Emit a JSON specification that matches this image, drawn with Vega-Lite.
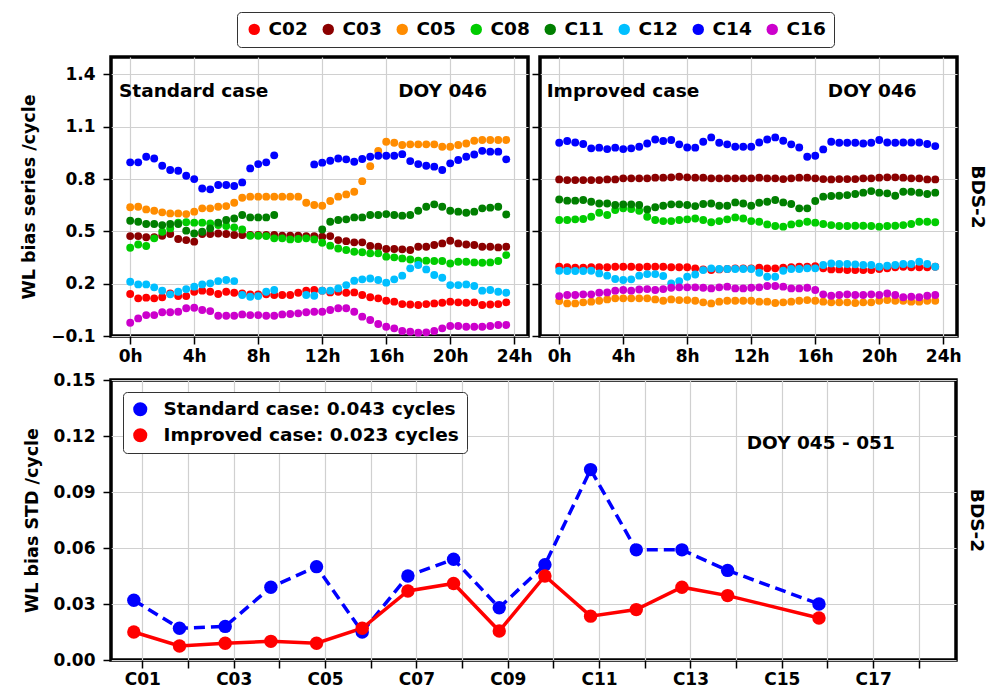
{
  "$schema": "https://vega.github.io/schema/vega-lite/v6.json",
  "padding": {"left": 18, "top": 11, "right": 5, "bottom": 2},
  "config": {
    "font": "DejaVu Sans",
    "view": {"stroke": "black", "strokeWidth": 3.5},
    "axis": {
      "labelFont": "DejaVu Sans", "labelFontSize": 17, "labelFontWeight": "bold", "labelColor": "black",
      "titleFont": "DejaVu Sans", "titleFontSize": 17.5, "titleFontWeight": "bold", "titleColor": "black",
      "tickColor": "black", "tickWidth": 1.5, "tickSize": 8, "domain": false,
      "gridColor": "#d0d0d0", "gridWidth": 1.2
    },
    "text": {"font": "DejaVu Sans", "fontWeight": "bold", "fontSize": 18.5, "color": "black"},
    "legend": {"labelFont": "DejaVu Sans", "labelFontWeight": "bold", "labelColor": "black", "labelLimit": 400}
  },
  "datasets": {
    "standard": [
      {"p":"C02","h":0,"v":0.141},{"p":"C02","h":0.5,"v":0.116},{"p":"C02","h":1,"v":0.120},{"p":"C02","h":1.5,"v":0.116},{"p":"C02","h":2,"v":0.122},{"p":"C02","h":2.5,"v":0.144},{"p":"C02","h":3,"v":0.129},{"p":"C02","h":3.5,"v":0.129},{"p":"C02","h":4,"v":0.154},{"p":"C02","h":4.5,"v":0.160},
      {"p":"C02","h":5,"v":0.154},{"p":"C02","h":5.5,"v":0.141},{"p":"C02","h":6,"v":0.154},{"p":"C02","h":6.5,"v":0.148},{"p":"C02","h":7,"v":0.144},{"p":"C02","h":7.5,"v":0.139},{"p":"C02","h":8,"v":0.139},{"p":"C02","h":8.5,"v":0.139},{"p":"C02","h":9,"v":0.135},{"p":"C02","h":9.5,"v":0.135},
      {"p":"C02","h":10,"v":0.135},{"p":"C02","h":10.5,"v":0.148},{"p":"C02","h":11,"v":0.160},{"p":"C02","h":11.5,"v":0.164},{"p":"C02","h":12,"v":0.160},{"p":"C02","h":12.5,"v":0.150},{"p":"C02","h":13,"v":0.154},{"p":"C02","h":13.5,"v":0.148},{"p":"C02","h":14,"v":0.150},{"p":"C02","h":14.5,"v":0.135},
      {"p":"C02","h":15,"v":0.122},{"p":"C02","h":15.5,"v":0.116},{"p":"C02","h":16,"v":0.102},{"p":"C02","h":16.5,"v":0.097},{"p":"C02","h":17,"v":0.083},{"p":"C02","h":17.5,"v":0.081},{"p":"C02","h":18,"v":0.078},{"p":"C02","h":18.5,"v":0.083},{"p":"C02","h":19,"v":0.087},{"p":"C02","h":19.5,"v":0.091},
      {"p":"C02","h":20,"v":0.097},{"p":"C02","h":20.5,"v":0.093},{"p":"C02","h":21,"v":0.091},{"p":"C02","h":21.5,"v":0.093},{"p":"C02","h":22,"v":0.078},{"p":"C02","h":22.5,"v":0.081},{"p":"C02","h":23,"v":0.083},{"p":"C02","h":23.5,"v":0.093},

      {"p":"C03","h":0,"v":0.473},{"p":"C03","h":0.5,"v":0.473},{"p":"C03","h":1,"v":0.466},{"p":"C03","h":1.5,"v":0.466},{"p":"C03","h":2,"v":0.475},{"p":"C03","h":2.5,"v":0.485},{"p":"C03","h":3,"v":0.456},{"p":"C03","h":3.5,"v":0.450},{"p":"C03","h":4,"v":0.441},{"p":"C03","h":4.5,"v":0.485},
      {"p":"C03","h":5,"v":0.485},{"p":"C03","h":5.5,"v":0.488},{"p":"C03","h":6,"v":0.485},{"p":"C03","h":6.5,"v":0.479},{"p":"C03","h":7,"v":0.479},{"p":"C03","h":7.5,"v":0.479},{"p":"C03","h":8,"v":0.479},{"p":"C03","h":8.5,"v":0.479},{"p":"C03","h":9,"v":0.479},{"p":"C03","h":9.5,"v":0.475},
      {"p":"C03","h":10,"v":0.475},{"p":"C03","h":10.5,"v":0.475},{"p":"C03","h":11,"v":0.473},{"p":"C03","h":11.5,"v":0.473},{"p":"C03","h":12,"v":0.469},{"p":"C03","h":12.5,"v":0.473},{"p":"C03","h":13,"v":0.450},{"p":"C03","h":13.5,"v":0.444},{"p":"C03","h":14,"v":0.437},{"p":"C03","h":14.5,"v":0.437},
      {"p":"C03","h":15,"v":0.416},{"p":"C03","h":15.5,"v":0.412},{"p":"C03","h":16,"v":0.399},{"p":"C03","h":16.5,"v":0.399},{"p":"C03","h":17,"v":0.397},{"p":"C03","h":17.5,"v":0.393},{"p":"C03","h":18,"v":0.412},{"p":"C03","h":18.5,"v":0.412},{"p":"C03","h":19,"v":0.422},{"p":"C03","h":19.5,"v":0.431},
      {"p":"C03","h":20,"v":0.446},{"p":"C03","h":20.5,"v":0.431},{"p":"C03","h":21,"v":0.425},{"p":"C03","h":21.5,"v":0.422},{"p":"C03","h":22,"v":0.412},{"p":"C03","h":22.5,"v":0.412},{"p":"C03","h":23,"v":0.408},{"p":"C03","h":23.5,"v":0.412},

      {"p":"C05","h":0,"v":0.638},{"p":"C05","h":0.5,"v":0.641},{"p":"C05","h":1,"v":0.626},{"p":"C05","h":1.5,"v":0.618},{"p":"C05","h":2,"v":0.609},{"p":"C05","h":2.5,"v":0.603},{"p":"C05","h":3,"v":0.603},{"p":"C05","h":3.5,"v":0.599},{"p":"C05","h":4,"v":0.613},{"p":"C05","h":4.5,"v":0.632},
      {"p":"C05","h":5,"v":0.632},{"p":"C05","h":5.5,"v":0.641},{"p":"C05","h":6,"v":0.645},{"p":"C05","h":6.5,"v":0.664},{"p":"C05","h":7,"v":0.693},{"p":"C05","h":7.5,"v":0.699},{"p":"C05","h":8,"v":0.699},{"p":"C05","h":8.5,"v":0.699},{"p":"C05","h":9,"v":0.699},{"p":"C05","h":9.5,"v":0.699},
      {"p":"C05","h":10,"v":0.699},{"p":"C05","h":10.5,"v":0.699},{"p":"C05","h":11,"v":0.664},{"p":"C05","h":11.5,"v":0.651},{"p":"C05","h":12,"v":0.647},{"p":"C05","h":12.5,"v":0.674},{"p":"C05","h":13,"v":0.699},{"p":"C05","h":13.5,"v":0.712},{"p":"C05","h":14,"v":0.727},{"p":"C05","h":14.5,"v":0.788},
      {"p":"C05","h":15,"v":0.874},{"p":"C05","h":15.5,"v":0.962},{"p":"C05","h":16,"v":1.014},{"p":"C05","h":16.5,"v":1.008},{"p":"C05","h":17,"v":0.995},{"p":"C05","h":17.5,"v":0.999},{"p":"C05","h":18,"v":0.999},{"p":"C05","h":18.5,"v":0.999},{"p":"C05","h":19,"v":0.999},{"p":"C05","h":19.5,"v":0.985},
      {"p":"C05","h":20,"v":0.985},{"p":"C05","h":20.5,"v":0.995},{"p":"C05","h":21,"v":1.004},{"p":"C05","h":21.5,"v":1.020},{"p":"C05","h":22,"v":1.024},{"p":"C05","h":22.5,"v":1.024},{"p":"C05","h":23,"v":1.024},{"p":"C05","h":23.5,"v":1.024},

      {"p":"C08","h":0,"v":0.406},{"p":"C08","h":0.5,"v":0.425},{"p":"C08","h":1,"v":0.416},{"p":"C08","h":1.5,"v":0.460},{"p":"C08","h":2,"v":0.498},{"p":"C08","h":2.5,"v":0.517},{"p":"C08","h":3,"v":0.550},{"p":"C08","h":3.5,"v":0.552},{"p":"C08","h":4,"v":0.550},{"p":"C08","h":4.5,"v":0.550},
      {"p":"C08","h":5,"v":0.546},{"p":"C08","h":5.5,"v":0.536},{"p":"C08","h":6,"v":0.531},{"p":"C08","h":6.5,"v":0.523},{"p":"C08","h":7,"v":0.511},{"p":"C08","h":7.5,"v":0.475},{"p":"C08","h":8,"v":0.475},{"p":"C08","h":8.5,"v":0.473},{"p":"C08","h":9,"v":0.460},{"p":"C08","h":9.5,"v":0.460},
      {"p":"C08","h":10,"v":0.454},{"p":"C08","h":10.5,"v":0.456},{"p":"C08","h":11,"v":0.460},{"p":"C08","h":11.5,"v":0.454},{"p":"C08","h":12,"v":0.435},{"p":"C08","h":12.5,"v":0.418},{"p":"C08","h":13,"v":0.402},{"p":"C08","h":13.5,"v":0.393},{"p":"C08","h":14,"v":0.383},{"p":"C08","h":14.5,"v":0.380},
      {"p":"C08","h":15,"v":0.374},{"p":"C08","h":15.5,"v":0.374},{"p":"C08","h":16,"v":0.355},{"p":"C08","h":16.5,"v":0.351},{"p":"C08","h":17,"v":0.345},{"p":"C08","h":17.5,"v":0.339},{"p":"C08","h":18,"v":0.332},{"p":"C08","h":18.5,"v":0.332},{"p":"C08","h":19,"v":0.330},{"p":"C08","h":19.5,"v":0.330},
      {"p":"C08","h":20,"v":0.316},{"p":"C08","h":20.5,"v":0.326},{"p":"C08","h":21,"v":0.326},{"p":"C08","h":21.5,"v":0.322},{"p":"C08","h":22,"v":0.320},{"p":"C08","h":22.5,"v":0.322},{"p":"C08","h":23,"v":0.330},{"p":"C08","h":23.5,"v":0.364},

      {"p":"C11","h":0,"v":0.561},{"p":"C11","h":0.5,"v":0.555},{"p":"C11","h":1,"v":0.542},{"p":"C11","h":1.5,"v":0.542},{"p":"C11","h":2,"v":0.536},{"p":"C11","h":2.5,"v":0.542},{"p":"C11","h":3,"v":0.542},{"p":"C11","h":3.5,"v":0.504},{"p":"C11","h":4,"v":0.488},{"p":"C11","h":4.5,"v":0.498},
      {"p":"C11","h":5,"v":0.517},{"p":"C11","h":5.5,"v":0.550},{"p":"C11","h":6,"v":0.565},{"p":"C11","h":6.5,"v":0.574},{"p":"C11","h":7,"v":0.594},{"p":"C11","h":7.5,"v":0.580},{"p":"C11","h":8,"v":0.580},{"p":"C11","h":8.5,"v":0.580},{"p":"C11","h":9,"v":0.594},
      {"p":"C11","h":12,"v":0.511},{"p":"C11","h":12.5,"v":0.555},{"p":"C11","h":13,"v":0.565},{"p":"C11","h":13.5,"v":0.569},{"p":"C11","h":14,"v":0.580},{"p":"C11","h":14.5,"v":0.580},
      {"p":"C11","h":15,"v":0.594},{"p":"C11","h":15.5,"v":0.594},{"p":"C11","h":16,"v":0.599},{"p":"C11","h":16.5,"v":0.594},{"p":"C11","h":17,"v":0.590},{"p":"C11","h":17.5,"v":0.594},{"p":"C11","h":18,"v":0.618},{"p":"C11","h":18.5,"v":0.641},{"p":"C11","h":19,"v":0.655},{"p":"C11","h":19.5,"v":0.641},
      {"p":"C11","h":20,"v":0.618},{"p":"C11","h":20.5,"v":0.613},{"p":"C11","h":21,"v":0.607},{"p":"C11","h":21.5,"v":0.613},{"p":"C11","h":22,"v":0.632},{"p":"C11","h":22.5,"v":0.636},{"p":"C11","h":23,"v":0.641},{"p":"C11","h":23.5,"v":0.597},

      {"p":"C12","h":0,"v":0.211},{"p":"C12","h":0.5,"v":0.196},{"p":"C12","h":1,"v":0.196},{"p":"C12","h":1.5,"v":0.179},{"p":"C12","h":2,"v":0.160},{"p":"C12","h":2.5,"v":0.139},{"p":"C12","h":3,"v":0.154},{"p":"C12","h":3.5,"v":0.169},{"p":"C12","h":4,"v":0.183},{"p":"C12","h":4.5,"v":0.196},
      {"p":"C12","h":5,"v":0.202},{"p":"C12","h":5.5,"v":0.215},{"p":"C12","h":6,"v":0.221},{"p":"C12","h":6.5,"v":0.215},{"p":"C12","h":7,"v":0.135},{"p":"C12","h":7.5,"v":0.125},{"p":"C12","h":8,"v":0.129},{"p":"C12","h":8.5,"v":0.154},{"p":"C12","h":9,"v":0.164},
      {"p":"C12","h":11,"v":0.135},{"p":"C12","h":11.5,"v":0.131},{"p":"C12","h":12,"v":0.160},{"p":"C12","h":12.5,"v":0.160},{"p":"C12","h":13,"v":0.173},{"p":"C12","h":13.5,"v":0.192},{"p":"C12","h":14,"v":0.217},{"p":"C12","h":14.5,"v":0.225},
      {"p":"C12","h":15,"v":0.230},{"p":"C12","h":15.5,"v":0.221},{"p":"C12","h":16,"v":0.206},{"p":"C12","h":16.5,"v":0.225},{"p":"C12","h":17,"v":0.246},{"p":"C12","h":17.5,"v":0.288},{"p":"C12","h":18,"v":0.307},{"p":"C12","h":18.5,"v":0.282},{"p":"C12","h":19,"v":0.250},{"p":"C12","h":19.5,"v":0.234},
      {"p":"C12","h":20,"v":0.192},{"p":"C12","h":20.5,"v":0.192},{"p":"C12","h":21,"v":0.196},{"p":"C12","h":21.5,"v":0.187},{"p":"C12","h":22,"v":0.160},{"p":"C12","h":22.5,"v":0.164},{"p":"C12","h":23,"v":0.154},{"p":"C12","h":23.5,"v":0.148},

      {"p":"C14","h":0,"v":0.896},{"p":"C14","h":0.5,"v":0.896},{"p":"C14","h":1,"v":0.928},{"p":"C14","h":1.5,"v":0.918},{"p":"C14","h":2,"v":0.876},{"p":"C14","h":2.5,"v":0.852},{"p":"C14","h":3,"v":0.848},{"p":"C14","h":3.5,"v":0.819},{"p":"C14","h":4,"v":0.800},{"p":"C14","h":4.5,"v":0.746},
      {"p":"C14","h":5,"v":0.741},{"p":"C14","h":5.5,"v":0.766},{"p":"C14","h":6,"v":0.766},{"p":"C14","h":6.5,"v":0.760},{"p":"C14","h":7,"v":0.781},{"p":"C14","h":7.5,"v":0.861},{"p":"C14","h":8,"v":0.886},{"p":"C14","h":8.5,"v":0.896},{"p":"C14","h":9,"v":0.936},
      {"p":"C14","h":11.5,"v":0.884},{"p":"C14","h":12,"v":0.894},{"p":"C14","h":12.5,"v":0.905},{"p":"C14","h":13,"v":0.918},{"p":"C14","h":13.5,"v":0.913},{"p":"C14","h":14,"v":0.899},{"p":"C14","h":14.5,"v":0.915},
      {"p":"C14","h":15,"v":0.928},{"p":"C14","h":15.5,"v":0.934},{"p":"C14","h":16,"v":0.934},{"p":"C14","h":16.5,"v":0.934},{"p":"C14","h":17,"v":0.943},{"p":"C14","h":17.5,"v":0.903},{"p":"C14","h":18,"v":0.886},{"p":"C14","h":18.5,"v":0.876},{"p":"C14","h":19,"v":0.871},{"p":"C14","h":19.5,"v":0.852},
      {"p":"C14","h":20,"v":0.890},{"p":"C14","h":20.5,"v":0.909},{"p":"C14","h":21,"v":0.928},{"p":"C14","h":21.5,"v":0.941},{"p":"C14","h":22,"v":0.962},{"p":"C14","h":22.5,"v":0.957},{"p":"C14","h":23,"v":0.957},{"p":"C14","h":23.5,"v":0.913},

      {"p":"C16","h":0,"v":-0.024},{"p":"C16","h":0.5,"v":0.001},{"p":"C16","h":1,"v":0.020},{"p":"C16","h":1.5,"v":0.020},{"p":"C16","h":2,"v":0.036},{"p":"C16","h":2.5,"v":0.036},{"p":"C16","h":3,"v":0.039},{"p":"C16","h":3.5,"v":0.059},{"p":"C16","h":4,"v":0.062},{"p":"C16","h":4.5,"v":0.049},
      {"p":"C16","h":5,"v":0.043},{"p":"C16","h":5.5,"v":0.016},{"p":"C16","h":6,"v":0.016},{"p":"C16","h":6.5,"v":0.016},{"p":"C16","h":7,"v":0.024},{"p":"C16","h":7.5,"v":0.020},{"p":"C16","h":8,"v":0.020},{"p":"C16","h":8.5,"v":0.016},{"p":"C16","h":9,"v":0.016},{"p":"C16","h":9.5,"v":0.024},
      {"p":"C16","h":10,"v":0.026},{"p":"C16","h":10.5,"v":0.030},{"p":"C16","h":11,"v":0.036},{"p":"C16","h":11.5,"v":0.039},{"p":"C16","h":12,"v":0.039},{"p":"C16","h":12.5,"v":0.049},{"p":"C16","h":13,"v":0.059},{"p":"C16","h":13.5,"v":0.059},{"p":"C16","h":14,"v":0.039},{"p":"C16","h":14.5,"v":0.011},
      {"p":"C16","h":15,"v":-0.008},{"p":"C16","h":15.5,"v":-0.031},{"p":"C16","h":16,"v":-0.047},{"p":"C16","h":16.5,"v":-0.056},{"p":"C16","h":17,"v":-0.071},{"p":"C16","h":17.5,"v":-0.075},{"p":"C16","h":18,"v":-0.081},{"p":"C16","h":18.5,"v":-0.079},{"p":"C16","h":19,"v":-0.071},{"p":"C16","h":19.5,"v":-0.056},
      {"p":"C16","h":20,"v":-0.043},{"p":"C16","h":20.5,"v":-0.043},{"p":"C16","h":21,"v":-0.047},{"p":"C16","h":21.5,"v":-0.047},{"p":"C16","h":22,"v":-0.047},{"p":"C16","h":22.5,"v":-0.043},{"p":"C16","h":23,"v":-0.037},{"p":"C16","h":23.5,"v":-0.037}
    ],
    "improved": [
      {"p":"C02","h":0,"v":0.297},{"p":"C02","h":0.5,"v":0.294},{"p":"C02","h":1,"v":0.292},{"p":"C02","h":1.5,"v":0.292},{"p":"C02","h":2,"v":0.294},{"p":"C02","h":2.5,"v":0.294},{"p":"C02","h":3,"v":0.294},{"p":"C02","h":3.5,"v":0.297},{"p":"C02","h":4,"v":0.297},{"p":"C02","h":4.5,"v":0.297},
      {"p":"C02","h":5,"v":0.294},{"p":"C02","h":5.5,"v":0.297},{"p":"C02","h":6,"v":0.297},{"p":"C02","h":6.5,"v":0.297},{"p":"C02","h":7,"v":0.294},{"p":"C02","h":7.5,"v":0.294},{"p":"C02","h":8,"v":0.294},{"p":"C02","h":8.5,"v":0.288},{"p":"C02","h":9,"v":0.282},{"p":"C02","h":9.5,"v":0.278},
      {"p":"C02","h":10,"v":0.282},{"p":"C02","h":10.5,"v":0.284},{"p":"C02","h":11,"v":0.288},{"p":"C02","h":11.5,"v":0.288},{"p":"C02","h":12,"v":0.288},{"p":"C02","h":12.5,"v":0.292},{"p":"C02","h":13,"v":0.288},{"p":"C02","h":13.5,"v":0.288},{"p":"C02","h":14,"v":0.292},{"p":"C02","h":14.5,"v":0.294},
      {"p":"C02","h":15,"v":0.297},{"p":"C02","h":15.5,"v":0.297},{"p":"C02","h":16,"v":0.301},{"p":"C02","h":16.5,"v":0.288},{"p":"C02","h":17,"v":0.282},{"p":"C02","h":17.5,"v":0.282},{"p":"C02","h":18,"v":0.278},{"p":"C02","h":18.5,"v":0.278},{"p":"C02","h":19,"v":0.278},{"p":"C02","h":19.5,"v":0.278},
      {"p":"C02","h":20,"v":0.284},{"p":"C02","h":20.5,"v":0.288},{"p":"C02","h":21,"v":0.294},{"p":"C02","h":21.5,"v":0.297},{"p":"C02","h":22,"v":0.294},{"p":"C02","h":22.5,"v":0.294},{"p":"C02","h":23,"v":0.294},{"p":"C02","h":23.5,"v":0.297},

      {"p":"C03","h":0,"v":0.798},{"p":"C03","h":0.5,"v":0.794},{"p":"C03","h":1,"v":0.794},{"p":"C03","h":1.5,"v":0.794},{"p":"C03","h":2,"v":0.794},{"p":"C03","h":2.5,"v":0.794},{"p":"C03","h":3,"v":0.798},{"p":"C03","h":3.5,"v":0.798},{"p":"C03","h":4,"v":0.804},{"p":"C03","h":4.5,"v":0.804},
      {"p":"C03","h":5,"v":0.804},{"p":"C03","h":5.5,"v":0.804},{"p":"C03","h":6,"v":0.808},{"p":"C03","h":6.5,"v":0.808},{"p":"C03","h":7,"v":0.810},{"p":"C03","h":7.5,"v":0.813},{"p":"C03","h":8,"v":0.810},{"p":"C03","h":8.5,"v":0.808},{"p":"C03","h":9,"v":0.808},{"p":"C03","h":9.5,"v":0.804},
      {"p":"C03","h":10,"v":0.804},{"p":"C03","h":10.5,"v":0.804},{"p":"C03","h":11,"v":0.804},{"p":"C03","h":11.5,"v":0.804},{"p":"C03","h":12,"v":0.804},{"p":"C03","h":12.5,"v":0.808},{"p":"C03","h":13,"v":0.804},{"p":"C03","h":13.5,"v":0.804},{"p":"C03","h":14,"v":0.800},{"p":"C03","h":14.5,"v":0.804},
      {"p":"C03","h":15,"v":0.808},{"p":"C03","h":15.5,"v":0.808},{"p":"C03","h":16,"v":0.804},{"p":"C03","h":16.5,"v":0.800},{"p":"C03","h":17,"v":0.798},{"p":"C03","h":17.5,"v":0.800},{"p":"C03","h":18,"v":0.800},{"p":"C03","h":18.5,"v":0.800},{"p":"C03","h":19,"v":0.804},{"p":"C03","h":19.5,"v":0.804},
      {"p":"C03","h":20,"v":0.808},{"p":"C03","h":20.5,"v":0.810},{"p":"C03","h":21,"v":0.810},{"p":"C03","h":21.5,"v":0.808},{"p":"C03","h":22,"v":0.804},{"p":"C03","h":22.5,"v":0.804},{"p":"C03","h":23,"v":0.798},{"p":"C03","h":23.5,"v":0.798},

      {"p":"C05","h":0,"v":0.101},{"p":"C05","h":0.5,"v":0.087},{"p":"C05","h":1,"v":0.087},{"p":"C05","h":1.5,"v":0.093},{"p":"C05","h":2,"v":0.097},{"p":"C05","h":2.5,"v":0.102},{"p":"C05","h":3,"v":0.110},{"p":"C05","h":3.5,"v":0.116},{"p":"C05","h":4,"v":0.116},{"p":"C05","h":4.5,"v":0.116},
      {"p":"C05","h":5,"v":0.116},{"p":"C05","h":5.5,"v":0.116},{"p":"C05","h":6,"v":0.110},{"p":"C05","h":6.5,"v":0.102},{"p":"C05","h":7,"v":0.110},{"p":"C05","h":7.5,"v":0.106},{"p":"C05","h":8,"v":0.106},{"p":"C05","h":8.5,"v":0.102},{"p":"C05","h":9,"v":0.093},{"p":"C05","h":9.5,"v":0.087},
      {"p":"C05","h":10,"v":0.097},{"p":"C05","h":10.5,"v":0.102},{"p":"C05","h":11,"v":0.102},{"p":"C05","h":11.5,"v":0.102},{"p":"C05","h":12,"v":0.102},{"p":"C05","h":12.5,"v":0.097},{"p":"C05","h":13,"v":0.097},{"p":"C05","h":13.5,"v":0.089},{"p":"C05","h":14,"v":0.093},{"p":"C05","h":14.5,"v":0.097},
      {"p":"C05","h":15,"v":0.102},{"p":"C05","h":15.5,"v":0.106},{"p":"C05","h":16,"v":0.102},{"p":"C05","h":16.5,"v":0.097},{"p":"C05","h":17,"v":0.093},{"p":"C05","h":17.5,"v":0.093},{"p":"C05","h":18,"v":0.093},{"p":"C05","h":18.5,"v":0.089},{"p":"C05","h":19,"v":0.093},{"p":"C05","h":19.5,"v":0.093},
      {"p":"C05","h":20,"v":0.102},{"p":"C05","h":20.5,"v":0.106},{"p":"C05","h":21,"v":0.102},{"p":"C05","h":21.5,"v":0.102},{"p":"C05","h":22,"v":0.097},{"p":"C05","h":22.5,"v":0.097},{"p":"C05","h":23,"v":0.102},{"p":"C05","h":23.5,"v":0.102},

      {"p":"C08","h":0,"v":0.565},{"p":"C08","h":0.5,"v":0.565},{"p":"C08","h":1,"v":0.569},{"p":"C08","h":1.5,"v":0.571},{"p":"C08","h":2,"v":0.584},{"p":"C08","h":2.5,"v":0.607},{"p":"C08","h":3,"v":0.594},{"p":"C08","h":3.5,"v":0.622},{"p":"C08","h":4,"v":0.632},{"p":"C08","h":4.5,"v":0.628},
      {"p":"C08","h":5,"v":0.618},{"p":"C08","h":5.5,"v":0.584},{"p":"C08","h":6,"v":0.565},{"p":"C08","h":6.5,"v":0.559},{"p":"C08","h":7,"v":0.559},{"p":"C08","h":7.5,"v":0.565},{"p":"C08","h":8,"v":0.569},{"p":"C08","h":8.5,"v":0.574},{"p":"C08","h":9,"v":0.565},{"p":"C08","h":9.5,"v":0.552},
      {"p":"C08","h":10,"v":0.559},{"p":"C08","h":10.5,"v":0.569},{"p":"C08","h":11,"v":0.580},{"p":"C08","h":11.5,"v":0.574},{"p":"C08","h":12,"v":0.559},{"p":"C08","h":12.5,"v":0.555},{"p":"C08","h":13,"v":0.540},{"p":"C08","h":13.5,"v":0.531},{"p":"C08","h":14,"v":0.527},{"p":"C08","h":14.5,"v":0.540},
      {"p":"C08","h":15,"v":0.546},{"p":"C08","h":15.5,"v":0.555},{"p":"C08","h":16,"v":0.550},{"p":"C08","h":16.5,"v":0.542},{"p":"C08","h":17,"v":0.536},{"p":"C08","h":17.5,"v":0.531},{"p":"C08","h":18,"v":0.531},{"p":"C08","h":18.5,"v":0.532},{"p":"C08","h":19,"v":0.532},{"p":"C08","h":19.5,"v":0.531},
      {"p":"C08","h":20,"v":0.527},{"p":"C08","h":20.5,"v":0.531},{"p":"C08","h":21,"v":0.532},{"p":"C08","h":21.5,"v":0.536},{"p":"C08","h":22,"v":0.542},{"p":"C08","h":22.5,"v":0.555},{"p":"C08","h":23,"v":0.555},{"p":"C08","h":23.5,"v":0.552},

      {"p":"C11","h":0,"v":0.683},{"p":"C11","h":0.5,"v":0.676},{"p":"C11","h":1,"v":0.676},{"p":"C11","h":1.5,"v":0.680},{"p":"C11","h":2,"v":0.670},{"p":"C11","h":2.5,"v":0.660},{"p":"C11","h":3,"v":0.660},{"p":"C11","h":3.5,"v":0.651},{"p":"C11","h":4,"v":0.655},{"p":"C11","h":4.5,"v":0.655},
      {"p":"C11","h":5,"v":0.651},{"p":"C11","h":5.5,"v":0.626},{"p":"C11","h":6,"v":0.638},{"p":"C11","h":6.5,"v":0.647},{"p":"C11","h":7,"v":0.655},{"p":"C11","h":7.5,"v":0.655},{"p":"C11","h":8,"v":0.651},{"p":"C11","h":8.5,"v":0.645},{"p":"C11","h":9,"v":0.657},{"p":"C11","h":9.5,"v":0.660},
      {"p":"C11","h":10,"v":0.647},{"p":"C11","h":10.5,"v":0.647},{"p":"C11","h":11,"v":0.666},{"p":"C11","h":11.5,"v":0.660},{"p":"C11","h":12,"v":0.647},{"p":"C11","h":12.5,"v":0.664},{"p":"C11","h":13,"v":0.670},{"p":"C11","h":13.5,"v":0.680},{"p":"C11","h":14,"v":0.666},{"p":"C11","h":14.5,"v":0.657},
      {"p":"C11","h":15,"v":0.632},{"p":"C11","h":15.5,"v":0.632},{"p":"C11","h":16,"v":0.674},{"p":"C11","h":16.5,"v":0.699},{"p":"C11","h":17,"v":0.703},{"p":"C11","h":17.5,"v":0.704},{"p":"C11","h":18,"v":0.708},{"p":"C11","h":18.5,"v":0.714},{"p":"C11","h":19,"v":0.722},{"p":"C11","h":19.5,"v":0.731},
      {"p":"C11","h":20,"v":0.722},{"p":"C11","h":20.5,"v":0.718},{"p":"C11","h":21,"v":0.704},{"p":"C11","h":21.5,"v":0.727},{"p":"C11","h":22,"v":0.727},{"p":"C11","h":22.5,"v":0.722},{"p":"C11","h":23,"v":0.714},{"p":"C11","h":23.5,"v":0.722},

      {"p":"C12","h":0,"v":0.274},{"p":"C12","h":0.5,"v":0.273},{"p":"C12","h":1,"v":0.273},{"p":"C12","h":1.5,"v":0.273},{"p":"C12","h":2,"v":0.274},{"p":"C12","h":2.5,"v":0.259},{"p":"C12","h":3,"v":0.246},{"p":"C12","h":3.5,"v":0.227},{"p":"C12","h":4,"v":0.221},{"p":"C12","h":4.5,"v":0.225},
      {"p":"C12","h":5,"v":0.246},{"p":"C12","h":5.5,"v":0.255},{"p":"C12","h":6,"v":0.255},{"p":"C12","h":6.5,"v":0.244},{"p":"C12","h":7,"v":0.202},{"p":"C12","h":7.5,"v":0.215},{"p":"C12","h":8,"v":0.240},{"p":"C12","h":8.5,"v":0.253},{"p":"C12","h":9,"v":0.278},{"p":"C12","h":9.5,"v":0.288},
      {"p":"C12","h":10,"v":0.284},{"p":"C12","h":10.5,"v":0.284},{"p":"C12","h":11,"v":0.284},{"p":"C12","h":11.5,"v":0.284},{"p":"C12","h":12,"v":0.284},{"p":"C12","h":12.5,"v":0.263},{"p":"C12","h":13,"v":0.240},{"p":"C12","h":13.5,"v":0.240},{"p":"C12","h":14,"v":0.274},{"p":"C12","h":14.5,"v":0.284},
      {"p":"C12","h":15,"v":0.284},{"p":"C12","h":15.5,"v":0.288},{"p":"C12","h":16,"v":0.288},{"p":"C12","h":16.5,"v":0.307},{"p":"C12","h":17,"v":0.316},{"p":"C12","h":17.5,"v":0.313},{"p":"C12","h":18,"v":0.313},{"p":"C12","h":18.5,"v":0.311},{"p":"C12","h":19,"v":0.307},{"p":"C12","h":19.5,"v":0.307},
      {"p":"C12","h":20,"v":0.297},{"p":"C12","h":20.5,"v":0.303},{"p":"C12","h":21,"v":0.307},{"p":"C12","h":21.5,"v":0.313},{"p":"C12","h":22,"v":0.313},{"p":"C12","h":22.5,"v":0.326},{"p":"C12","h":23,"v":0.313},{"p":"C12","h":23.5,"v":0.297},

      {"p":"C14","h":0,"v":1.008},{"p":"C14","h":0.5,"v":1.018},{"p":"C14","h":1,"v":1.010},{"p":"C14","h":1.5,"v":1.001},{"p":"C14","h":2,"v":0.976},{"p":"C14","h":2.5,"v":0.980},{"p":"C14","h":3,"v":0.972},{"p":"C14","h":3.5,"v":0.980},{"p":"C14","h":4,"v":0.972},{"p":"C14","h":4.5,"v":0.976},
      {"p":"C14","h":5,"v":0.985},{"p":"C14","h":5.5,"v":1.004},{"p":"C14","h":6,"v":1.027},{"p":"C14","h":6.5,"v":1.018},{"p":"C14","h":7,"v":1.024},{"p":"C14","h":7.5,"v":0.999},{"p":"C14","h":8,"v":0.981},{"p":"C14","h":8.5,"v":0.980},{"p":"C14","h":9,"v":1.014},{"p":"C14","h":9.5,"v":1.039},
      {"p":"C14","h":10,"v":1.008},{"p":"C14","h":10.5,"v":0.999},{"p":"C14","h":11,"v":0.985},{"p":"C14","h":11.5,"v":0.985},{"p":"C14","h":12,"v":0.985},{"p":"C14","h":12.5,"v":1.010},{"p":"C14","h":13,"v":1.027},{"p":"C14","h":13.5,"v":1.039},{"p":"C14","h":14,"v":1.020},{"p":"C14","h":14.5,"v":0.999},
      {"p":"C14","h":15,"v":0.981},{"p":"C14","h":15.5,"v":0.928},{"p":"C14","h":16,"v":0.934},{"p":"C14","h":16.5,"v":0.970},{"p":"C14","h":17,"v":1.014},{"p":"C14","h":17.5,"v":1.008},{"p":"C14","h":18,"v":1.008},{"p":"C14","h":18.5,"v":1.008},{"p":"C14","h":19,"v":1.004},{"p":"C14","h":19.5,"v":1.008},
      {"p":"C14","h":20,"v":1.024},{"p":"C14","h":20.5,"v":1.010},{"p":"C14","h":21,"v":1.008},{"p":"C14","h":21.5,"v":1.010},{"p":"C14","h":22,"v":1.010},{"p":"C14","h":22.5,"v":1.010},{"p":"C14","h":23,"v":1.001},{"p":"C14","h":23.5,"v":0.989},

      {"p":"C16","h":0,"v":0.129},{"p":"C16","h":0.5,"v":0.135},{"p":"C16","h":1,"v":0.135},{"p":"C16","h":1.5,"v":0.139},{"p":"C16","h":2,"v":0.139},{"p":"C16","h":2.5,"v":0.148},{"p":"C16","h":3,"v":0.150},{"p":"C16","h":3.5,"v":0.160},{"p":"C16","h":4,"v":0.164},{"p":"C16","h":4.5,"v":0.160},
      {"p":"C16","h":5,"v":0.167},{"p":"C16","h":5.5,"v":0.169},{"p":"C16","h":6,"v":0.164},{"p":"C16","h":6.5,"v":0.169},{"p":"C16","h":7,"v":0.177},{"p":"C16","h":7.5,"v":0.179},{"p":"C16","h":8,"v":0.179},{"p":"C16","h":8.5,"v":0.179},{"p":"C16","h":9,"v":0.177},{"p":"C16","h":9.5,"v":0.173},
      {"p":"C16","h":10,"v":0.179},{"p":"C16","h":10.5,"v":0.183},{"p":"C16","h":11,"v":0.173},{"p":"C16","h":11.5,"v":0.173},{"p":"C16","h":12,"v":0.177},{"p":"C16","h":12.5,"v":0.179},{"p":"C16","h":13,"v":0.187},{"p":"C16","h":13.5,"v":0.187},{"p":"C16","h":14,"v":0.183},{"p":"C16","h":14.5,"v":0.173},
      {"p":"C16","h":15,"v":0.173},{"p":"C16","h":15.5,"v":0.177},{"p":"C16","h":16,"v":0.164},{"p":"C16","h":16.5,"v":0.139},{"p":"C16","h":17,"v":0.131},{"p":"C16","h":17.5,"v":0.135},{"p":"C16","h":18,"v":0.139},{"p":"C16","h":18.5,"v":0.135},{"p":"C16","h":19,"v":0.135},{"p":"C16","h":19.5,"v":0.139},
      {"p":"C16","h":20,"v":0.135},{"p":"C16","h":20.5,"v":0.144},{"p":"C16","h":21,"v":0.135},{"p":"C16","h":21.5,"v":0.122},{"p":"C16","h":22,"v":0.125},{"p":"C16","h":22.5,"v":0.122},{"p":"C16","h":23,"v":0.131},{"p":"C16","h":23.5,"v":0.135}
    ],
    "std": [
      {"c":"Standard case: 0.043 cycles","n":1,"v":0.032},{"c":"Standard case: 0.043 cycles","n":2,"v":0.017},{"c":"Standard case: 0.043 cycles","n":3,"v":0.018},{"c":"Standard case: 0.043 cycles","n":4,"v":0.039},{"c":"Standard case: 0.043 cycles","n":5,"v":0.050},
      {"c":"Standard case: 0.043 cycles","n":6,"v":0.015},{"c":"Standard case: 0.043 cycles","n":7,"v":0.045},{"c":"Standard case: 0.043 cycles","n":8,"v":0.054},{"c":"Standard case: 0.043 cycles","n":9,"v":0.028},{"c":"Standard case: 0.043 cycles","n":10,"v":0.051},
      {"c":"Standard case: 0.043 cycles","n":11,"v":0.102},{"c":"Standard case: 0.043 cycles","n":12,"v":0.059},{"c":"Standard case: 0.043 cycles","n":13,"v":0.059},{"c":"Standard case: 0.043 cycles","n":14,"v":0.048},{"c":"Standard case: 0.043 cycles","n":16,"v":0.030},
      {"c":"Improved case: 0.023 cycles","n":1,"v":0.015},{"c":"Improved case: 0.023 cycles","n":2,"v":0.0075},{"c":"Improved case: 0.023 cycles","n":3,"v":0.009},{"c":"Improved case: 0.023 cycles","n":4,"v":0.010},{"c":"Improved case: 0.023 cycles","n":5,"v":0.009},
      {"c":"Improved case: 0.023 cycles","n":6,"v":0.017},{"c":"Improved case: 0.023 cycles","n":7,"v":0.037},{"c":"Improved case: 0.023 cycles","n":8,"v":0.041},{"c":"Improved case: 0.023 cycles","n":9,"v":0.0155},{"c":"Improved case: 0.023 cycles","n":10,"v":0.045},
      {"c":"Improved case: 0.023 cycles","n":11,"v":0.0235},{"c":"Improved case: 0.023 cycles","n":12,"v":0.027},{"c":"Improved case: 0.023 cycles","n":13,"v":0.039},{"c":"Improved case: 0.023 cycles","n":14,"v":0.0345},{"c":"Improved case: 0.023 cycles","n":16,"v":0.0225}
    ]
  },
  "vconcat": [
    {
      "spacing": -5,
      "hconcat": [
        {
          "width": 417,
          "height": 279,
          "layer": [
            {
              "data": {"name": "standard"},
              "mark": {"type": "point", "filled": true, "size": 62, "opacity": 1},
              "encoding": {
                "x": {"field": "h", "type": "quantitative", "scale": {"domain": [-1.2, 24.86], "nice": false, "zero": false},
                      "axis": {"values": [0, 4, 8, 12, 16, 20, 24], "labelExpr": "datum.value + 'h'", "title": null, "labelPadding": 4}},
                "y": {"field": "v", "type": "quantitative", "scale": {"domain": [-0.1, 1.5], "nice": false, "zero": false},
                      "axis": {"values": [-0.1, 0.2, 0.5, 0.8, 1.1, 1.4], "format": ".1f", "title": "WL bias series /cycle", "labelPadding": 8, "titlePadding": 12}},
                "color": {"field": "p", "type": "nominal",
                          "scale": {"domain": ["C02", "C03", "C05", "C08", "C11", "C12", "C14", "C16"],
                                    "range": ["#ff0000", "#8b0000", "#ff8c00", "#00cc00", "#007f00", "#00bfff", "#0000ff", "#cc00cc"]},
                          "legend": {"orient": "none", "legendX": 126, "legendY": -45, "direction": "horizontal", "columns": 8, "title": null, "symbolType": "circle", "symbolSize": 130,
                                     "labelFontSize": 18.5, "labelOffset": 5, "columnPadding": 11, "padding": 8, "cornerRadius": 4,
                                     "strokeColor": "#333333", "fillColor": "white",
                                     "encode": {"legend": {"update": {"strokeWidth": {"value": 2}}}}}}
              }
            },
            {
              "data": {"values": [{}]},
              "mark": {"type": "text", "align": "left", "baseline": "middle"},
              "encoding": {"x": {"datum": -0.7}, "y": {"datum": 1.305}, "text": {"value": "Standard case"}}
            },
            {
              "data": {"values": [{}]},
              "mark": {"type": "text", "align": "right", "baseline": "middle"},
              "encoding": {"x": {"datum": 22.3}, "y": {"datum": 1.305}, "text": {"value": "DOY 046"}}
            }
          ]
        },
        {
          "width": 417,
          "height": 279,
          "layer": [
            {
              "data": {"name": "improved"},
              "mark": {"type": "point", "filled": true, "size": 62, "opacity": 1},
              "encoding": {
                "x": {"field": "h", "type": "quantitative", "scale": {"domain": [-1.2, 24.86], "nice": false, "zero": false},
                      "axis": {"values": [0, 4, 8, 12, 16, 20, 24], "labelExpr": "datum.value + 'h'", "title": null, "labelPadding": 4}},
                "y": {"field": "v", "type": "quantitative", "scale": {"domain": [-0.1, 1.5], "nice": false, "zero": false},
                      "axis": {"values": [-0.1, 0.2, 0.5, 0.8, 1.1, 1.4], "labels": false, "title": null, "minExtent": 0, "maxExtent": 8}},
                "color": {"field": "p", "type": "nominal",
                          "scale": {"domain": ["C02", "C03", "C05", "C08", "C11", "C12", "C14", "C16"],
                                    "range": ["#ff0000", "#8b0000", "#ff8c00", "#00cc00", "#007f00", "#00bfff", "#0000ff", "#cc00cc"]},
                          "legend": {"orient": "none", "legendX": 126, "legendY": -45, "direction": "horizontal", "columns": 8, "title": null, "symbolType": "circle", "symbolSize": 130,
                                     "labelFontSize": 18.5, "labelOffset": 5, "columnPadding": 11, "padding": 8, "cornerRadius": 4,
                                     "strokeColor": "#333333", "fillColor": "white",
                                     "encode": {"legend": {"update": {"strokeWidth": {"value": 2}}}}}}
              }
            },
            {
              "data": {"values": [{}]},
              "mark": {"type": "text", "align": "left", "baseline": "middle"},
              "encoding": {"x": {"datum": -0.78}, "y": {"datum": 1.305, "axis": null}, "text": {"value": "Improved case"}}
            },
            {
              "data": {"values": [{}]},
              "mark": {"type": "text", "align": "right", "baseline": "middle"},
              "encoding": {"x": {"datum": 22.34},
                           "y": {"datum": 1.305, "axis": {"orient": "right", "title": "BDS-2", "labels": false, "ticks": false, "grid": false, "titleAngle": 90, "titlePadding": 10, "titleFontSize": 18.5, "minExtent": 0}},
                           "text": {"value": "DOY 046"}}
            }
          ],
          "resolve": {"axis": {"y": "independent"}}
        }
      ]
    },
    {
      "width": 845,
      "height": 280,
      "data": {"name": "std"},
      "layer": [
        {
          "transform": [{"filter": "indexof(datum.c, 'Standard') == 0"}],
          "mark": {"type": "line", "color": "#0000ff", "strokeWidth": 3.5, "strokeDash": [11, 6]},
          "encoding": {
            "x": {"field": "n", "type": "quantitative", "scale": {"domain": [0.5, 19], "nice": false, "zero": false},
                  "axis": {"values": [1, 2, 3, 4, 5, 6, 7, 8, 9, 10, 11, 12, 13, 14, 15, 16, 17, 18], "tickOffset": 8.5, "title": null, "labelPadding": 3,
                           "labelExpr": "datum.value % 2 == 1 ? 'C' + (datum.value < 10 ? '0' : '') + datum.value : ''"}},
            "y": {"field": "v", "type": "quantitative", "scale": {"domain": [0, 0.15], "nice": false, "zero": false},
                  "axis": {"values": [0, 0.03, 0.06, 0.09, 0.12, 0.15], "format": ".2f", "title": "WL bias STD /cycle", "labelPadding": 8, "titlePadding": 12}}
          }
        },
        {
          "transform": [{"filter": "indexof(datum.c, 'Improved') == 0"}],
          "mark": {"type": "line", "color": "#ff0000", "strokeWidth": 3.5},
          "encoding": {
            "x": {"field": "n", "type": "quantitative"},
            "y": {"field": "v", "type": "quantitative", "axis": null}
          }
        },
        {
          "mark": {"type": "point", "filled": true, "size": 180, "opacity": 1},
          "encoding": {
            "x": {"field": "n", "type": "quantitative"},
            "y": {"field": "v", "type": "quantitative", "axis": null},
            "color": {"field": "c", "type": "nominal",
                      "scale": {"domain": ["Standard case: 0.043 cycles", "Improved case: 0.023 cycles"], "range": ["#0000ff", "#ff0000"]},
                      "legend": {"orient": "top-left", "offset": 12, "title": null, "symbolType": "circle", "symbolSize": 200,
                                 "labelFontSize": 18.5, "labelOffset": 14, "rowPadding": 7, "padding": 8, "cornerRadius": 4,
                                 "strokeColor": "#333333", "fillColor": "white",
                                 "encode": {"legend": {"update": {"strokeWidth": {"value": 2}}}}}}
          }
        },
        {
          "data": {"values": [{}]},
          "mark": {"type": "text", "align": "right", "baseline": "middle"},
          "encoding": {"x": {"datum": 17.66},
                       "y": {"datum": 0.116, "axis": {"orient": "right", "title": "BDS-2", "labels": false, "ticks": false, "grid": false, "titleAngle": 90, "titlePadding": 10, "titleFontSize": 18.5, "minExtent": 0}},
                       "text": {"value": "DOY 045 - 051"}}
        }
      ],
      "resolve": {"axis": {"y": "independent"}}
    }
  ],
  "spacing": 3,
  "resolve": {"scale": {"color": "independent"}}
}
